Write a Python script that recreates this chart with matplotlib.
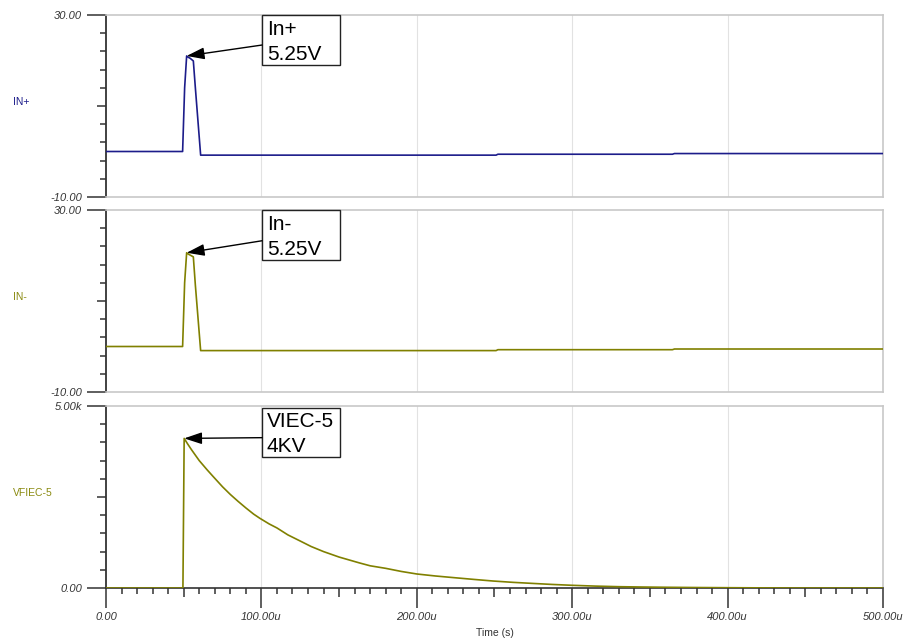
import matplotlib.pyplot as plt
import matplotlib.patches as patches
import numpy as np

plt.rcParams['font.family'] = ['Liberation Sans', 'DejaVu Sans']

# time in microseconds
t_in = [0, 49.3, 50.6, 51.9, 53.0, 54.1, 56.2, 57.5, 60.9, 70, 251.0, 252.2, 364.5, 365.8, 500]
in_plus = [0.0, 0.0, 14.0, 21.0, 20.7, 20.5, 19.9, 14.0, -0.8, -0.8, -0.8, -0.6, -0.6, -0.45, -0.45]
in_minus = [0.0, 0.0, 14.0, 20.6, 20.3, 20.1, 19.7, 13.5, -0.9, -0.9, -0.9, -0.7, -0.7, -0.55, -0.55]

t_v = [0, 49.5, 50.3, 52.5, 55, 57.5, 60, 65, 69, 75, 80, 85, 90, 95, 99, 105, 110, 117,
       125, 132, 140, 150, 163, 170, 180, 190, 200, 212, 225, 237, 249, 262, 275, 287,
       300, 315, 330, 345, 360, 380, 400, 420, 440, 500]
vfiec = [0, 0, 4110, 3960, 3800, 3650, 3500, 3250, 3060, 2780, 2570, 2380, 2200, 2030, 1915,
         1760, 1650, 1460, 1290, 1140, 1000, 850, 690, 610, 540, 455, 385, 330, 280, 235,
         192, 155, 125, 98, 74, 52, 36, 27, 20, 13, 8, 4, 0, 0]

blue = '#1c1c8a'
olive = '#808000'
label_olive = '#8a8a10'

fig = plt.figure(figsize=(9.17, 6.38), dpi=100)
left, width, height = 106/917, 777/917, 182/638
bottoms = [441/638, 246/638, 50/638]

panels = [
    dict(t=t_in, v=in_plus, color=blue, lab='IN+', lc=blue, lim=(-10, 30),
         ticklab=['-10.00', '', '30.00'], note='In+\n5.25V'),
    dict(t=t_in, v=in_minus, color=olive, lab='IN-', lc=label_olive, lim=(-10, 30),
         ticklab=['-10.00', '', '30.00'], note='In-\n5.25V'),
    dict(t=t_v, v=vfiec, color=olive, lab='VFIEC-5', lc=label_olive, lim=(0, 5000),
         ticklab=['0.00', '', '5.00k'], note='VIEC-5\n4KV'),
]
box_y = [(0.725, 1.0, 0.835), (0.725, 1.0, 0.831), (0.718, 0.991, 0.826)]

xmaj = np.arange(0, 501, 50)
xlabels = [('0.00' if v == 0 else f'{v:.2f}u') if v % 100 == 0 else '' for v in xmaj]

for i, p in enumerate(panels):
    ax = fig.add_axes([left, bottoms[i], width, height])
    lo, hi = p['lim']
    ax.set_xlim(0, 500)
    ax.set_ylim(lo, hi)
    for g in [100, 200, 300, 400]:
        ax.axvline(g, color='#e2e2e2', lw=0.8, zorder=0)
    ax.plot(p['t'], p['v'], color=p['color'], lw=1.2, zorder=3)

    for s in ['top', 'right', 'bottom']:
        ax.spines[s].set_color('#c8c8c8')
        ax.spines[s].set_linewidth(1.2)
    ax.spines['left'].set_color('#333333')
    ax.spines['left'].set_linewidth(1.3)

    ax.set_yticks([lo, (lo + hi) / 2, hi])
    ax.set_yticklabels(p['ticklab'], fontstyle='italic', color='#333333')
    ax.set_yticks(np.linspace(lo, hi, 11), minor=True)
    ax.tick_params(axis='y', which='major', length=13.7, width=1.1, color='#333333',
                   pad=3.6, labelsize=8)
    ax.tick_params(axis='y', which='minor', length=4.3, width=1.1, color='#333333')
    ax.yaxis.get_major_ticks()[1].tick1line.set_markersize(6.5)

    if i < 2:
        ax.tick_params(axis='x', which='both', bottom=False, labelbottom=False)
    else:
        ax.spines['bottom'].set_color('#333333')
        ax.set_xticks(xmaj)
        ax.set_xticklabels(xlabels, fontstyle='italic', color='#333333')
        ax.set_xticks(np.arange(0, 501, 10), minor=True)
        ax.tick_params(axis='x', which='major', length=14.4, width=1.1, color='#333333',
                       pad=3, labelsize=8)
        ax.tick_params(axis='x', which='minor', length=4.3, width=1.1, color='#333333')
        for k, tk in enumerate(ax.xaxis.get_major_ticks()):
            if xmaj[k] % 100 != 0:
                tk.tick1line.set_markersize(6.5)
        ax.set_xlabel('Time (s)', fontsize=7.5, color='#333333', labelpad=4)

    ax.text(-93/777, 0.52, p['lab'], transform=ax.transAxes, ha='left', va='center',
            fontsize=7.5, color=p['lc'])

    # annotation box + arrow to the peak
    by0, by1, ytail = box_y[i]
    bx0, bx1 = 0.2008, 0.3012
    ax.add_patch(patches.Rectangle((bx0, by0), bx1 - bx0, by1 - by0, transform=ax.transAxes,
                                   facecolor='white', edgecolor='#222222', lw=1.0,
                                   zorder=5, clip_on=False))
    ax.text(bx0 + 0.006, by1 - 0.025, p['note'], transform=ax.transAxes, ha='left', va='top',
            fontsize=15, linespacing=1.4, color='black', zorder=6)
    k = int(np.argmax(p['v']))
    ax.annotate('', xy=(p['t'][k], p['v'][k]), xytext=(bx0, ytail), textcoords='axes fraction',
                arrowprops=dict(arrowstyle='-|>,head_length=0.6,head_width=0.2', color='black',
                                lw=1.0, shrinkA=0, shrinkB=0, mutation_scale=18), zorder=6)

plt.savefig('out.png', dpi=100)
